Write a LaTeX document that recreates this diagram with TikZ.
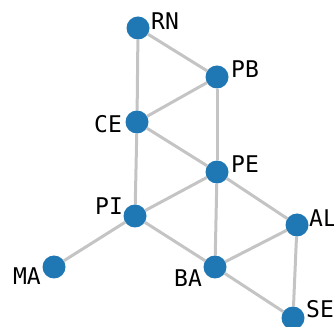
\documentclass[tikz,border=0pt]{standalone}
\usepackage{fontspec}
\setmainfont{DejaVu Sans Mono}
\usetikzlibrary{backgrounds}
\definecolor{nodeblue}{RGB}{31,119,180}
\definecolor{edgegray}{RGB}{196,196,196}
\begin{document}
\begin{tikzpicture}[x=1pt,y=1pt]
\tikzstyle{vertex}=[circle,fill=nodeblue,inner sep=0pt,minimum size=23pt]
\tikzstyle{lbl}=[inner sep=0pt,font=\fontsize{23}{23}\selectfont]
\tikzstyle{link}=[draw=edgegray,line width=3pt]

\useasboundingbox (0,0) rectangle (334,326);
\clip (0,0) rectangle (334,326);

\node[vertex] (RN) at (138,298) {};
\node[vertex] (PB) at (217,249) {};
\node[vertex] (CE) at (137,204) {};
\node[vertex] (PE) at (217,154) {};
\node[vertex] (PI) at (135,110) {};
\node[vertex] (AL) at (297,101) {};
\node[vertex] (MA) at (54,59) {};
\node[vertex] (BA) at (215,59) {};
\node[vertex] (SE) at (293,8) {};

\node[lbl,xshift=27pt,yshift=7pt] (RN_l) at (RN) {RN};
\node[lbl,xshift=28pt,yshift=8pt] (PB_l) at (PB) {PB};
\node[lbl,xshift=-29pt,yshift=-2pt] (CE_l) at (CE) {CE};
\node[lbl,xshift=28pt,yshift=8pt] (PE_l) at (PE) {PE};
\node[lbl,xshift=-26pt,yshift=10pt] (PI_l) at (PI) {PI};
\node[lbl,xshift=26pt,yshift=7pt] (AL_l) at (AL) {AL};
\node[lbl,xshift=-27pt,yshift=-9pt] (MA_l) at (MA) {MA};
\node[lbl,xshift=-27pt,yshift=-11pt] (BA_l) at (BA) {BA};
\node[lbl,xshift=27pt,yshift=9pt] (SE_l) at (SE) {SE};

\begin{scope}[on background layer]
\path[link]
  (RN) edge (PB)
  (RN) edge (CE)
  (PB) edge (CE)
  (PB) edge (PE)
  (CE) edge (PE)
  (CE) edge (PI)
  (PE) edge (PI)
  (PE) edge (BA)
  (PE) edge (AL)
  (PI) edge (MA)
  (PI) edge (BA)
  (BA) edge (AL)
  (BA) edge (SE)
  (AL) edge (SE);
\end{scope}
\end{tikzpicture}
\end{document}
